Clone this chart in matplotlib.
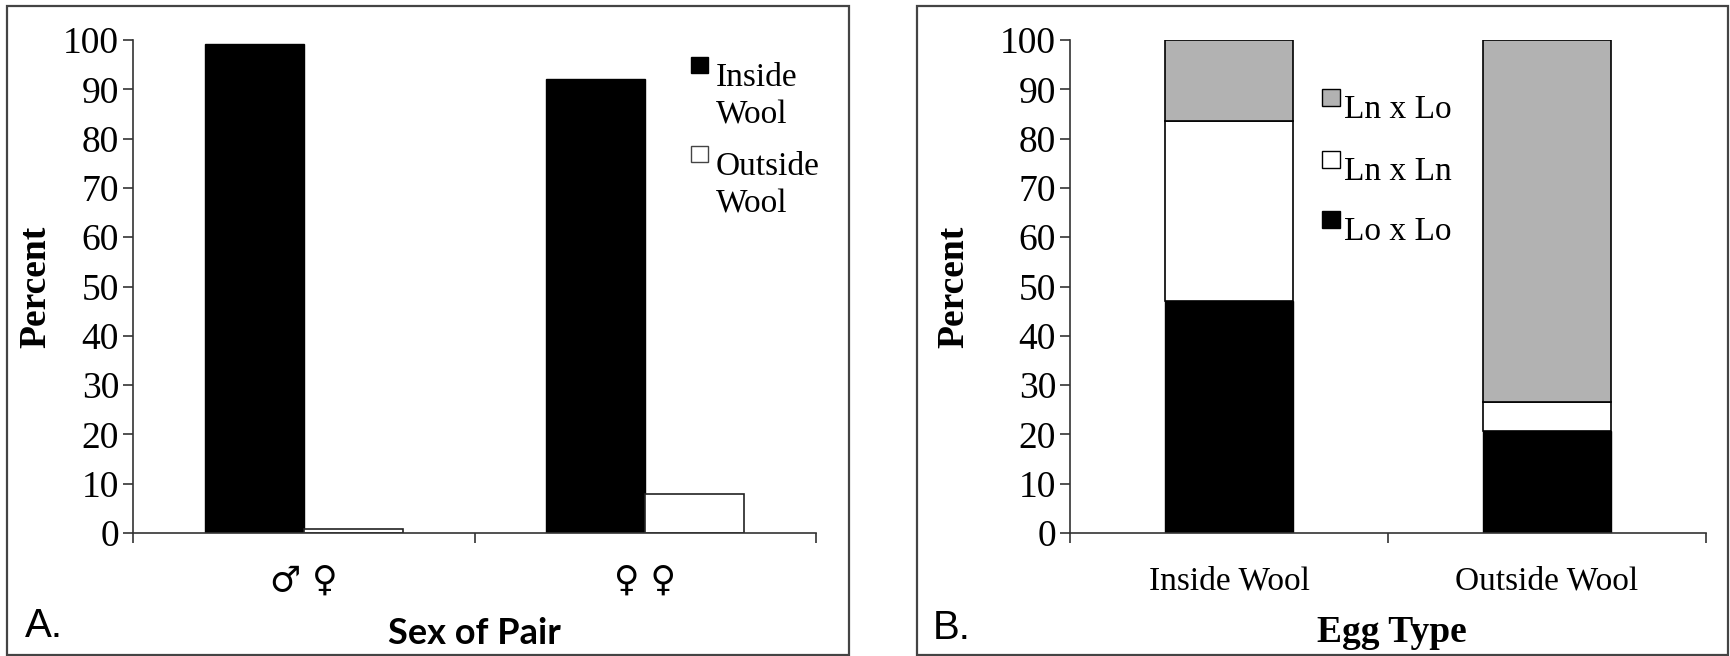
import matplotlib
matplotlib.use("Agg")
from matplotlib import pyplot as plt
from matplotlib.patches import Rectangle
import numpy as np

# panel A: where pairs laid eggs, by sex of pair
pair_types = ["\u2642 \u2640", "\u2640 \u2640"]
inside_wool = [99.2, 92.0]
outside_wool = [0.8, 8.0]
a_labels = ["Inside Wool", "Outside Wool"]

# panel B: egg type composition
egg_types = ["Inside Wool", "Outside Wool"]
lo_x_lo = [47.0, 20.7]
ln_x_ln = [36.6, 5.9]
ln_x_lo = [16.4, 73.4]
b_labels = ["Lo x Lo", "Ln x Ln", "Ln x Lo"]

serif = "Liberation Serif"
W, H = 1730, 656

fig = plt.figure(figsize=(W / 100, H / 100), dpi=100)


def px_axes(x0, x1, y0, y1):
    return fig.add_axes([x0 / W, (H - y1) / H, (x1 - x0) / W, (y1 - y0) / H])


def style_axes(ax, cats, tick_font, pad):
    ax.set_xlim(-0.5, len(cats) - 0.5)
    ax.set_ylim(0, 100)
    ax.set_yticks(np.arange(0, 101, 10))
    for s in ["top", "right"]:
        ax.spines[s].set_visible(False)
    for s in ["left", "bottom"]:
        ax.spines[s].set_color("#333333")
        ax.spines[s].set_linewidth(1.2)
    ax.tick_params(axis="y", direction="out", length=7, width=1.2, color="#333333", pad=3)
    for lab in ax.get_yticklabels():
        lab.set_fontfamily(serif)
        lab.set_fontsize(27)
    # category boundaries get the tick marks, names sit in between
    ax.set_xticks(np.arange(len(cats) + 1) - 0.5)
    ax.set_xticklabels([])
    ax.tick_params(axis="x", which="major", direction="out", length=7, width=1.2, color="#333333")
    ax.set_xticks(np.arange(len(cats)), minor=True)
    ax.set_xticklabels(cats, minor=True, **tick_font)
    ax.tick_params(axis="x", which="minor", length=0, pad=pad)


def legend_entry(ax, y_top, text, color, x_box, x_text, box_w, box_h, edge="black"):
    ax.add_patch(Rectangle((x_box, y_top - box_h), box_w, box_h, transform=ax.transAxes,
                           facecolor=color, edgecolor=edge, linewidth=1.0, clip_on=False))
    ax.text(x_text, y_top - 0.012, text, transform=ax.transAxes, fontfamily=serif,
            fontsize=24, va="top", ha="left", linespacing=1.3)


# ---- panel A ----
axA = px_axes(133, 816, 40, 533)
x = np.arange(len(pair_types))
bw = 0.29
axA.bar(x - bw / 2, inside_wool, bw, color="black", edgecolor="black", linewidth=1.0)
axA.bar(x + bw / 2, outside_wool, bw, color="white", edgecolor="#222222", linewidth=1.2)
style_axes(axA, pair_types, dict(fontfamily="DejaVu Sans", fontsize=25), pad=22)

legend_entry(axA, 0.9655, "\n".join(a_labels[0].split()), "black", 0.817, 0.853, 0.025, 0.033)
legend_entry(axA, 0.785, "\n".join(a_labels[1].split()), "white", 0.817, 0.853, 0.025, 0.033,
             edge="#444444")

# ---- panel B ----
axB = px_axes(1070, 1706, 40, 533)
x = np.arange(len(egg_types))
bw = 0.40
lo = np.array(lo_x_lo)
ln = np.array(ln_x_ln)
axB.bar(x, lo, bw, color="black", edgecolor="black", linewidth=1.0)
axB.bar(x, ln, bw, bottom=lo, color="white", edgecolor="black", linewidth=1.2)
axB.bar(x, ln_x_lo, bw, bottom=lo + ln, color="#b2b2b2", edgecolor="black", linewidth=1.2)
style_axes(axB, egg_types, dict(fontfamily=serif, fontsize=24), pad=24)

colors = {"Lo x Lo": "black", "Ln x Ln": "white", "Ln x Lo": "#b2b2b2"}
for y_top, lab in zip([0.9006, 0.775, 0.653], b_labels[::-1]):
    legend_entry(axB, y_top, lab, colors[lab], 0.396, 0.431, 0.028, 0.0345)

# axis titles
fig.text(36 / W, (H - 287) / H, "Percent", rotation=90, ha="center", va="center",
         fontfamily=serif, fontweight="bold", fontsize=27)
fig.text(954 / W, (H - 287) / H, "Percent", rotation=90, ha="center", va="center",
         fontfamily=serif, fontweight="bold", fontsize=27)
fig.text(474.5 / W, (H - 644) / H, "Sex of Pair", ha="center", va="baseline",
         fontfamily="Lato", fontweight="bold", fontsize=26)
fig.text(1392 / W, (H - 642) / H, "Egg Type", ha="center", va="baseline",
         fontfamily=serif, fontweight="bold", fontsize=27)

# panel letters
fig.text(25 / W, (H - 637) / H, "A.", ha="left", va="baseline",
         fontfamily="Liberation Sans", fontsize=29)
fig.text(933 / W, (H - 639) / H, "B.", ha="left", va="baseline",
         fontfamily="Liberation Sans", fontsize=29)

# panel frames
for x0, x1 in [(7, 849), (917, 1728)]:
    fig.add_artist(Rectangle((x0 / W, (H - 655) / H), (x1 - x0) / W, 649 / H,
                             transform=fig.transFigure, fill=False,
                             edgecolor="#444444", linewidth=1.6))

fig.savefig("out.png", dpi=100)
